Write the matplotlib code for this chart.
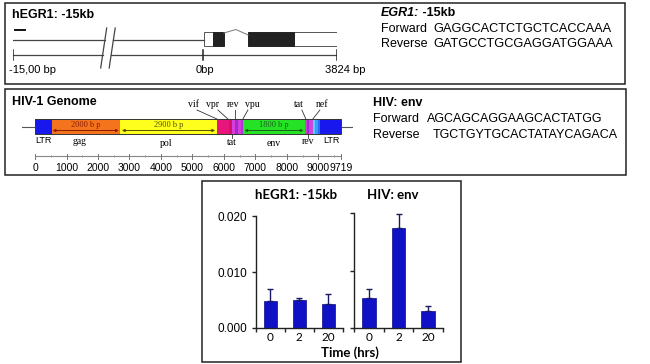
import numpy as np
import matplotlib
matplotlib.use('Agg')
import matplotlib.pyplot as plt
from matplotlib.patches import Rectangle

# ---------------- data ----------------
# Panel 1 : hEGR1 -15kb locus (bp)
egr_span = [-15000, 3824]
egr_tick_pos = [-15000, 0, 3824]
egr_tick_labels = ['-15,00 bp', '0bp', '3824 bp']
egr_utr_start = [37, 2594]
egr_utr_end = [294, 3840]
egr_cds_start = [294, 1291]
egr_cds_end = [599, 2594]
egr_intron_x = [599, 941, 1291]
egr_primer_x = [-14850, -14060]
egr_break_x = [-7836, -7165]
egr_title = 'hEGR1: -15kb'
egr_fwd = 'GAGGCACTCTGCTCACCAAA'
egr_rev = 'GATGCCTGCGAGGATGGAAA'

# Panel 2 : HIV-1 genome (bp)
hiv_length = 9719
hiv_seg_start = [0, 530, 2700, 5770, 6150, 6250, 6350, 6450, 6530, 6613,
                 8571, 8640, 8700, 8760, 8825, 8900, 8980, 9048]
hiv_seg_color = ['#1818EE', '#F4741E', '#FFFF1E', '#E8157D', '#D0146C',
                 '#D83CDC', '#9C2CCC', '#D83CDC', '#A838D4', '#26E226',
                 '#D83CDC', '#9C2CCC', '#D83CDC', '#C050E0', '#58CCFF',
                 '#3A9CFF', '#2A6AF8', '#1818EE']
hiv_span_from = [560, 2760, 6650]
hiv_span_to = [2660, 5720, 8530]
hiv_span_label = ['2000 b p', '2900 b p', '1800 b p']
hiv_span_color = ['#8A1A00', '#505000', '#1A601A']
hiv_top_genes = ['vif', 'vpr', 'rev', 'vpu', 'tat', 'nef']
hiv_top_text_x = [5048, 5650, 6286, 6889, 8381, 9111]
hiv_top_line_from = [5143, 5810, 6349, 6762, 8476, 9048]
hiv_top_line_to = [5778, 6127, 6349, 6603, 8603, 8825]
hiv_bot_genes = ['LTR', 'gag', 'pol', 'tat', 'env', 'rev', 'LTR']
hiv_bot_x = [254, 1429, 4159, 6254, 7587, 8667, 9429]
hiv_bot_tick = [False, False, False, True, False, True, False]
hiv_scale_ticks = [0, 1000, 2000, 3000, 4000, 5000, 6000, 7000, 8000, 9000, 9719]
hiv_scale_minor = [500, 1500, 2500, 3500, 4500, 5500, 6500, 7500, 8500, 9500]
hiv_title = 'HIV-1 Genome'
hiv_fwd = 'AGCAGCAGGAAGCACTATGG'
hiv_rev = 'TGCTGYTGCACTATAYCAGACA'

# Panel 3 : ChIP qPCR
time_labels = ['0', '2', '20']
egr_chip = [0.0048, 0.0051, 0.0043]
egr_chip_err = [0.0021, 0.0003, 0.0018]
env_chip = [0.0052, 0.0174, 0.0030]
env_chip_err = [0.0015, 0.0024, 0.0008]
chip_yticks = [0.0, 0.010, 0.020]
chip_ytick_labels = ['0.000', '0.010', '0.020']

# ---------------- figure ----------------
W, H, DPI = 650, 364, 100
fig = plt.figure(figsize=(W / DPI, H / DPI), dpi=DPI)
fig.patch.set_facecolor('white')

SANS = 'Liberation Sans'
SERIF = 'Liberation Serif'
CAL = 'Lato'


def px_rect(x0, y0, x1, y1):
    return [x0 / W, 1 - y1 / H, (x1 - x0) / W, (y1 - y0) / H]


ov = fig.add_axes([0, 0, 1, 1], zorder=0)
ov.set_xlim(0, W)
ov.set_ylim(H, 0)
ov.axis('off')

for (x0, y0, x1, y1) in [(5, 3, 625, 84), (5, 89, 626, 175), (202, 181, 461, 362)]:
    ov.add_patch(Rectangle((x0, y0), x1 - x0, y1 - y0, fill=False,
                           ec='#222222', lw=1.1))

# ---- panel 1 texts ----
ov.text(12, 15, egr_title, fontsize=9, fontweight='bold', family=SANS,
        va='center', ha='left')
t1 = ov.text(381, 13, 'EGR1:', fontsize=9, fontweight='bold', style='italic',
             family=SANS, va='center', ha='left')
ov.annotate(' -15kb', xy=(1, 0), xycoords=t1, va='bottom', ha='left',
            fontsize=9, fontweight='bold', family=SANS)
ov.text(381, 28.5, 'Forward', fontsize=9, family=SANS, va='center')
ov.text(433, 28.5, egr_fwd, fontsize=9.2, family=SANS, va='center')
ov.text(381, 44, 'Reverse', fontsize=9, family=SANS, va='center')
ov.text(433, 44, egr_rev, fontsize=9.2, family=SANS, va='center')
for xpx, lab in zip([9, 196, 325], egr_tick_labels):
    ov.text(xpx, 70, lab, fontsize=8, family=SANS, va='center', ha='left')

# ---- panel 2 texts ----
ov.text(12, 102, hiv_title, fontsize=9, fontweight='bold', family=SANS,
        va='center', ha='left')
ov.text(373, 102.5, 'HIV: env', fontsize=9, fontweight='bold', family=SANS,
        va='center')
ov.text(373, 119.5, 'Forward', fontsize=9, family=SANS, va='center')
ov.text(427, 119.5, hiv_fwd, fontsize=9, family=SANS, va='center')
ov.text(373, 135, 'Reverse', fontsize=9, family=SANS, va='center')
ov.text(433, 135, hiv_rev, fontsize=9, family=SANS, va='center')

# ---- panel 3 texts ----
ov.text(296, 195, egr_title, fontsize=9.5, fontweight='bold', family=CAL,
        ha='center', va='center')
ov.text(393, 195, 'HIV: env', fontsize=9.5, fontweight='bold', family=CAL,
        ha='center', va='center')
ov.text(350, 353, 'Time (hrs)', fontsize=9.5, fontweight='bold', family=CAL,
        ha='center', va='center')

# ---------------- panel 1 gene structure ----------------
K = 0.3609


def fwd(x):
    x = np.asarray(x, float)
    return np.where(x < 0, x * K, x)


def inv(y):
    y = np.asarray(y, float)
    return np.where(y < 0, y / K, y)


a1 = fig.add_axes(px_rect(13, 25, 337, 75), zorder=2)
a1.set_facecolor('none')
a1.set_xscale('function', functions=(fwd, inv))
a1.set_xlim(egr_span[0], egr_span[1])
a1.set_ylim(75, 25)
a1.axis('off')

LC = '#444444'
sl = 237  # half-slant of break marks in bp (left region)
b1, b2 = egr_break_x
a1.plot([egr_span[0], b1 + sl * 8 / 20], [40, 40], color=LC, lw=0.9)
a1.plot([b2 + sl * 8 / 20, egr_utr_start[0]], [40, 40], color=LC, lw=0.9)
a1.plot([egr_span[0], b1 - sl * 7 / 20], [55, 55], color=LC, lw=0.9)
a1.plot([b2 - sl * 7 / 20, egr_span[1]], [55, 55], color=LC, lw=0.9)
for b in egr_break_x:
    a1.plot([b + sl, b - sl], [28, 68], color=LC, lw=0.9)
for tp in egr_tick_pos:
    a1.plot([tp, tp], [50, 60], color='#222222', lw=1.1)
a1.plot(egr_primer_x, [30, 30], color='#111111', lw=1.4)
for s, e in zip(egr_utr_start, egr_utr_end):
    a1.add_patch(Rectangle((s, 32), e - s, 14, fc='white', ec='#555555', lw=0.7))
for s, e in zip(egr_cds_start, egr_cds_end):
    a1.add_patch(Rectangle((s, 32), e - s, 14, fc='#222222', ec='#222222', lw=0.7))
a1.plot(egr_intron_x, [33, 29.5, 35], color='#777777', lw=0.7)

# ---------------- panel 2 HIV genome ----------------
a2 = fig.add_axes(px_rect(21.8, 95, 353.0, 175), zorder=2)
a2.set_facecolor('none')
a2.set_xlim(-420, 10100)
a2.set_ylim(175, 95)
a2.axis('off')

a2.plot([-420, 10100], [127, 127], color='#555555', lw=0.8, zorder=1)
seg_end = hiv_seg_start[1:] + [hiv_length]
widths = [e - s for s, e in zip(hiv_seg_start, seg_end)]
a2.bar(hiv_seg_start, [15] * len(widths), width=widths, bottom=119,
       align='edge', color=hiv_seg_color, edgecolor='none', zorder=2)
a2.add_patch(Rectangle((0, 119), hiv_length, 15, fill=False, ec='#333333',
                       lw=0.7, zorder=3))
for f, t, lab, c in zip(hiv_span_from, hiv_span_to, hiv_span_label, hiv_span_color):
    a2.annotate('', xy=(t, 130.5), xytext=(f, 130.5),
                arrowprops=dict(arrowstyle='<|-|>', color=c, lw=0.7,
                                mutation_scale=4, shrinkA=0, shrinkB=0),
                zorder=4)
    a2.text((f + t) / 2, 124.5, lab, fontsize=6, family=SERIF, color=c,
            ha='center', va='center', zorder=4)
for g, tx, lf, lt in zip(hiv_top_genes, hiv_top_text_x, hiv_top_line_from,
                         hiv_top_line_to):
    a2.text(tx, 104.5, g, fontsize=7, family=SERIF, ha='center', va='center')
    a2.plot([lf, lt], [110, 119], color='#333333', lw=0.6)
bot_y = [140, 141, 143, 142, 143, 141.5, 140]
for g, bx, tick, by in zip(hiv_bot_genes, hiv_bot_x, hiv_bot_tick, bot_y):
    fam = SANS if g == 'LTR' else SERIF
    fs = 6.5 if g == 'LTR' else 7
    a2.text(bx, by, g, fontsize=fs, family=fam, ha='center', va='center')
    if tick:
        a2.plot([bx, bx], [134, 137.5], color='#333333', lw=0.6)
a2.plot([0, hiv_length], [156, 156], color='#888888', lw=0.8)
for tp in hiv_scale_ticks:
    a2.plot([tp, tp], [153.5, 158.5], color='#777777', lw=0.7)
    a2.text(tp, 168, str(tp), fontsize=7.5, family=SANS, ha='center', va='center')
for tp in hiv_scale_minor:
    a2.plot([tp, tp], [154.5, 157], color='#999999', lw=0.5)

# ---------------- panel 3 bar charts ----------------
BAR = '#1010C4'
ERR = '#1a1a60'


def chip_axes(rect, vals, errs, show_labels):
    ax = fig.add_axes(rect, zorder=2)
    ax.set_facecolor('none')
    x = np.arange(len(vals))
    ax.bar(x, vals, width=0.46, color=BAR, edgecolor='#0a0a90', lw=0.5,
           yerr=[[0] * len(errs), errs],
           error_kw=dict(ecolor=ERR, elinewidth=1.0, capsize=2.5, capthick=1.0))
    ax.set_xlim(-0.5, len(vals) - 0.5)
    ax.set_ylim(0, 0.020)
    for s in ['top', 'right']:
        ax.spines[s].set_visible(False)
    for s in ['left', 'bottom']:
        ax.spines[s].set_color('#222222')
        ax.spines[s].set_linewidth(1.0)
    ax.set_xticks(np.arange(len(vals) + 1) - 0.5)
    ax.set_xticklabels([])
    ax.set_xticks(x, minor=True)
    ax.set_xticklabels(time_labels, minor=True, fontsize=8.5, family=CAL)
    ax.tick_params(axis='x', which='major', direction='out', length=3,
                   width=1.0, color='#222222')
    ax.tick_params(axis='x', which='minor', length=0, pad=3)
    ax.set_yticks(chip_yticks)
    if show_labels:
        ax.set_yticklabels(chip_ytick_labels, fontsize=8.5, family=SANS)
    else:
        ax.set_yticklabels([])
    ax.tick_params(axis='y', direction='out', length=3, width=1.0,
                   color='#222222', pad=3)
    return ax


chip_axes(px_rect(255.7, 216.3, 342.7, 328), egr_chip, egr_chip_err, True)
chip_axes(px_rect(354.3, 213, 442.7, 328), env_chip, env_chip_err, False)

fig.savefig('out.png', dpi=DPI, facecolor='white')
